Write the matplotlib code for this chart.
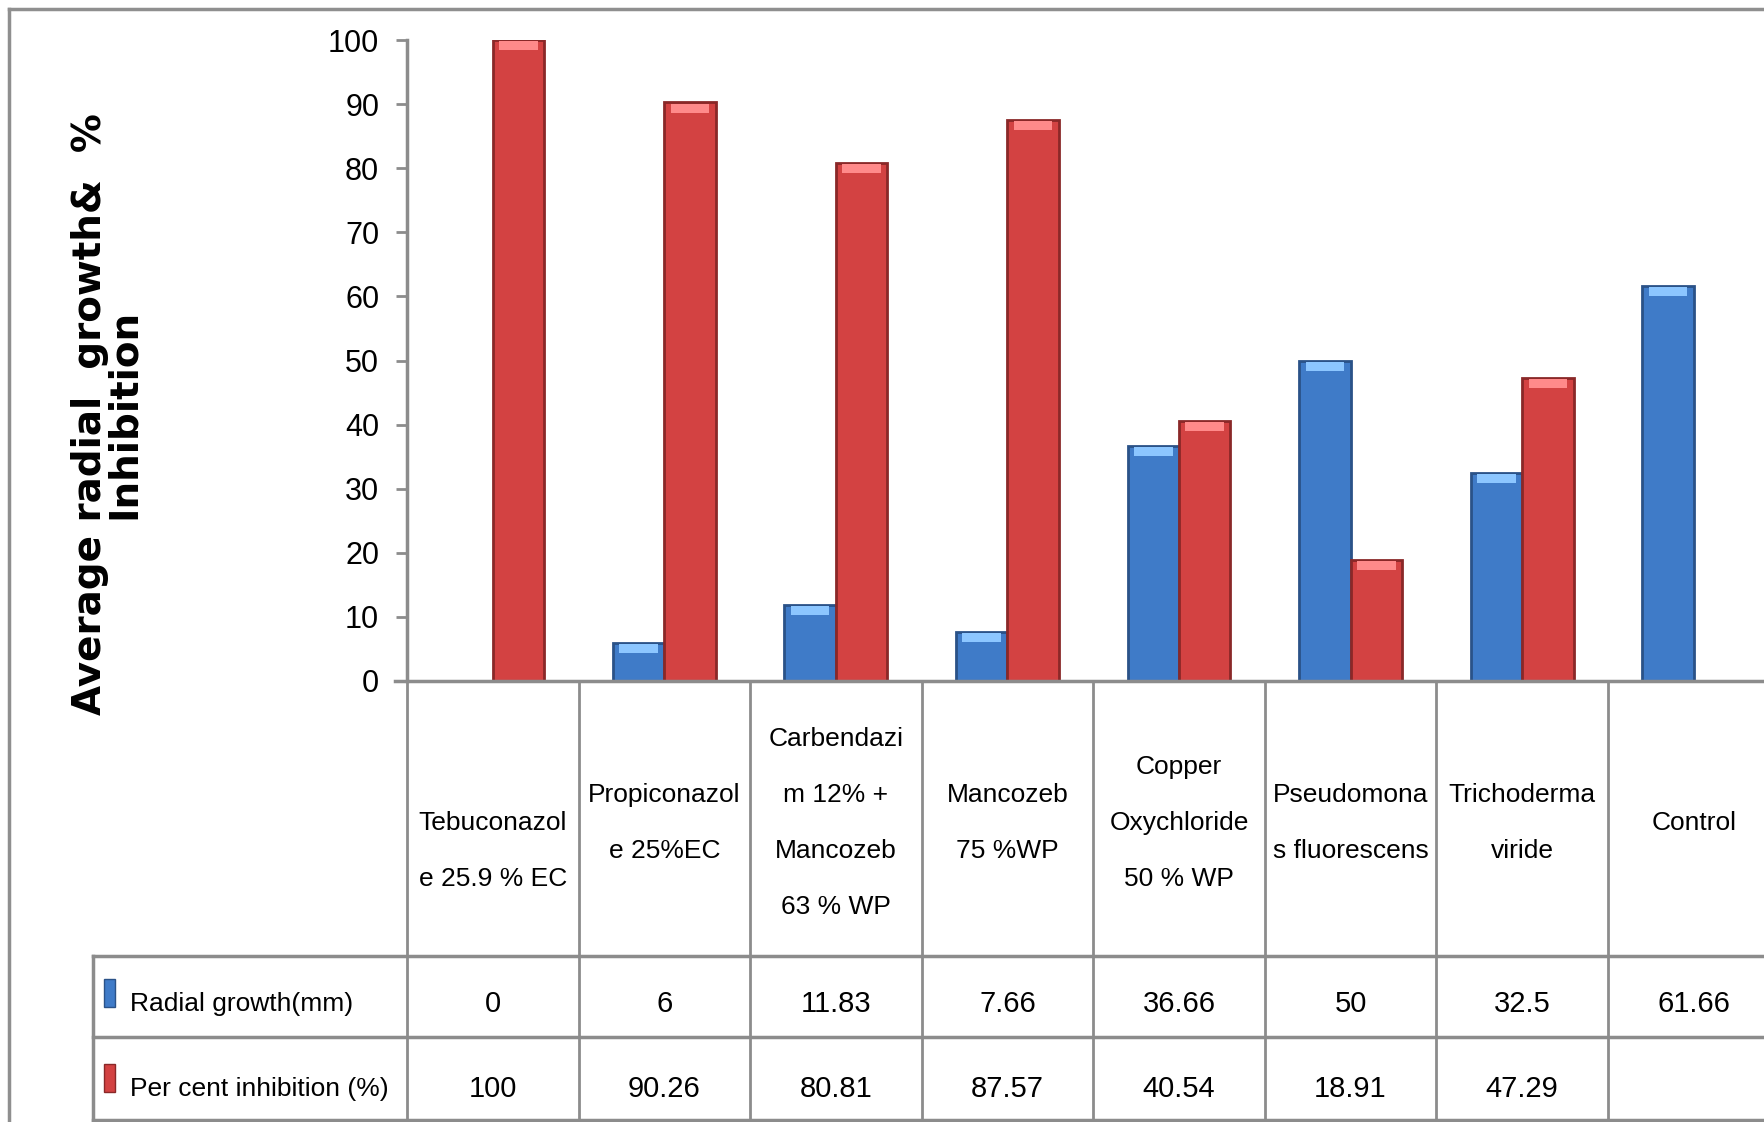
import numpy as np
import matplotlib
matplotlib.use("Agg")
import matplotlib.pyplot as plt
from matplotlib import transforms
from matplotlib.patches import Rectangle
from matplotlib.lines import Line2D

# data
treatments = ["\nTebuconazol\ne 25.9 % EC", "Propiconazol\ne 25%EC",
              "Carbendazi\nm 12% +\nMancozeb\n63 % WP", "Mancozeb\n75 %WP",
              "Copper\nOxychloride\n50 % WP", "Pseudomona\ns fluorescens",
              "Trichoderma\nviride", "Control"]
radial_growth = [0, 6, 11.83, 7.66, 36.66, 50, 32.5, 61.66]
inhibition = [100, 90.26, 80.81, 87.57, 40.54, 18.91, 47.29, np.nan]
radial_txt = ["0", "6", "11.83", "7.66", "36.66", "50", "32.5", "61.66"]
inhib_txt = ["100", "90.26", "80.81", "87.57", "40.54", "18.91", "47.29", ""]
series_names = ["Radial growth(mm)", "Per cent inhibition (%)"]
yticks = [0, 10, 20, 30, 40, 50, 60, 70, 80, 90, 100]

W, H = 1764, 1122
narrow = ["Liberation Sans", "DejaVu Sans"]
grid_c = "#8c8c8c"
blue, blue_edge, blue_top = "#3f7bc8", "#2a5288", "#8cc6ff"
red, red_edge, red_top = "#d34242", "#8a2828", "#ff8a8a"

fig = plt.figure(figsize=(W / 100, H / 100), dpi=100)
ax = fig.add_axes([407 / W, 1 - 681 / H, (W - 407) / W, (681 - 40) / H])

x = np.arange(len(treatments))
bw = 0.30
for vals, off, fc, ec, tc in [(radial_growth, -bw / 2, blue, blue_edge, blue_top),
                              (inhibition, bw / 2, red, red_edge, red_top)]:
    ax.bar(x + off, vals, bw, color=fc, edgecolor=ec, linewidth=2, zorder=2)
    v = np.array(vals, dtype=float)
    cap = np.where(v > 2, 1.4, np.nan)
    ax.bar(x + off, cap, bw * 0.75, bottom=v - 1.6, color=tc, linewidth=0, zorder=3)

ax.set_xlim(-0.5, 7.41)
ax.set_ylim(0, 100)
ax.set_xticks([])
ax.set_yticks(yticks)
ax.set_yticklabels([str(t) for t in yticks], family=narrow, fontsize=22)
ax.tick_params(axis="y", length=8, width=2, color=grid_c, pad=12)
for s in ["top", "right"]:
    ax.spines[s].set_visible(False)
for s in ["left", "bottom"]:
    ax.spines[s].set_color(grid_c)
    ax.spines[s].set_linewidth(2.5)
ax.spines["bottom"].set_bounds(-0.57, 7.41)

# data table below the chart
bt = transforms.blended_transform_factory(ax.transData, fig.transFigure)
fy = lambda p: 1 - p / H
for k in range(9):
    fig.add_artist(Line2D([k - 0.5, k - 0.5], [fy(681), 0], transform=bt,
                          color=grid_c, lw=2, clip_on=False))
for py in [956, 1037, 1120]:
    fig.add_artist(Line2D([93 / W, 1], [fy(py), fy(py)], transform=fig.transFigure,
                          color=grid_c, lw=2.5))
fig.add_artist(Line2D([93 / W, 93 / W], [fy(956), 0], transform=fig.transFigure,
                      color=grid_c, lw=2.5))

for i, lab in enumerate(treatments):
    fig.text(i, fy(823), lab, transform=bt, ha="center", va="center",
             family=narrow, fontsize=19, linespacing=2.7)
    fig.text(i, fy(1004), radial_txt[i], transform=bt, ha="center", va="center",
             family=narrow, fontsize=21)
    fig.text(i, fy(1089), inhib_txt[i], transform=bt, ha="center", va="center",
             family=narrow, fontsize=21)

for name, py, fc, ec in [(series_names[0], 1004, blue, blue_edge),
                         (series_names[1], 1089, red, red_edge)]:
    fig.add_artist(Rectangle((104 / W, fy(py + 3)), 11 / W, 28 / H,
                             transform=fig.transFigure, facecolor=fc, edgecolor=ec, lw=1))
    fig.text(130 / W, fy(py), name, ha="left", va="center", family=narrow, fontsize=19)

fig.text(107 / W, fy(414), "Average radial  growth&  %\nInhibition", rotation=90,
         ha="center", va="center", multialignment="center", fontsize=28,
         fontweight="bold", family="DejaVu Sans", linespacing=0.88)

# outer frame
fig.add_artist(Line2D([9 / W, 9 / W], [0, fy(9)], transform=fig.transFigure, color="#8f8f8f", lw=2.5))
fig.add_artist(Line2D([9 / W, 1], [fy(9), fy(9)], transform=fig.transFigure, color="#8f8f8f", lw=2.5))

fig.savefig("out.png", dpi=100)
